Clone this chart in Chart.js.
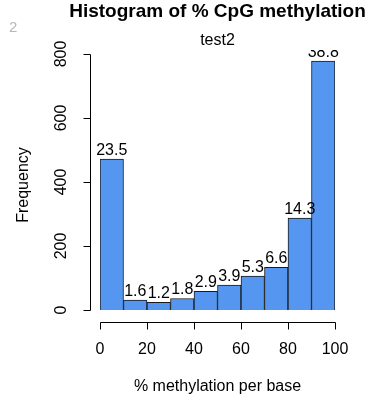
<!DOCTYPE html>
<html>
<head>
<meta charset="utf-8">
<script src="https://cdn.jsdelivr.net/npm/chart.js@4/dist/chart.umd.min.js"></script>
<style>
  html, body { margin: 0; padding: 0; background: #fff; }
  #wrap { width: 368px; height: 399px; position: relative; }
</style>
</head>
<body>
<div id="wrap"><canvas id="hist" width="368" height="399"></canvas></div>
<script>
// histogram bins (centres of 10-wide bins) and counts
const binCentres = [5, 15, 25, 35, 45, 55, 65, 75, 85, 95];
const counts = [472, 31, 24, 36, 58, 78, 106, 133, 287, 778];
const pctLabels = ['23.5', '1.6', '1.2', '1.8', '2.9', '3.9', '5.3', '6.6', '14.3', '38.8'];
const xTicks = [0, 20, 40, 60, 80, 100];
const yTicks = [0, 200, 400, 600, 800];

const FONT = '"Liberation Sans", Arial, sans-serif';

// R-style base graphics: detached axes, rotated y labels, titles
const rAxes = {
    id: 'rAxes',
    afterDatasetsDraw(chart) {
        const ctx = chart.ctx;
        const meta = chart.getDatasetMeta(0);

        // percentage labels above bars, clipped to plot region
        ctx.save();
        ctx.beginPath();
        ctx.rect(0, 50, chart.width, chart.height);
        ctx.clip();
        ctx.fillStyle = '#000';
        ctx.font = '16px ' + FONT;
        ctx.textAlign = 'center';
        ctx.textBaseline = 'alphabetic';
        meta.data.forEach((bar, i) => {
            ctx.fillText(pctLabels[i], bar.x, bar.y - 4);
        });
        ctx.restore();
    },
    afterDraw(chart) {
        const ctx = chart.ctx;
        const xs = chart.scales.x;
        const ys = chart.scales.y;
        ctx.save();
        ctx.strokeStyle = '#000';
        ctx.lineWidth = 1;

        // y axis
        const ax = 90.5;
        ctx.beginPath();
        ctx.moveTo(ax, Math.round(ys.getPixelForValue(0)) + 0.5);
        ctx.lineTo(ax, Math.round(ys.getPixelForValue(800)) + 0.5);
        yTicks.forEach(v => {
            const py = Math.round(ys.getPixelForValue(v)) + 0.5;
            ctx.moveTo(ax, py);
            ctx.lineTo(ax - 7, py);
        });
        ctx.stroke();

        // x axis
        const ay = 322.5;
        ctx.beginPath();
        ctx.moveTo(Math.round(xs.getPixelForValue(0)) + 0.5, ay);
        ctx.lineTo(Math.round(xs.getPixelForValue(100)) + 0.5, ay);
        xTicks.forEach(v => {
            const px = Math.round(xs.getPixelForValue(v)) + 0.5;
            ctx.moveTo(px, ay);
            ctx.lineTo(px, ay + 7);
        });
        ctx.stroke();

        ctx.fillStyle = '#000';
        ctx.font = '16px ' + FONT;
        ctx.textAlign = 'center';
        ctx.textBaseline = 'middle';
        xTicks.forEach(v => {
            ctx.fillText(String(v), xs.getPixelForValue(v), 350);
        });
        yTicks.forEach(v => {
            ctx.save();
            ctx.translate(62, ys.getPixelForValue(v));
            ctx.rotate(-Math.PI / 2);
            ctx.fillText(String(v), 0, 0);
            ctx.restore();
        });

        // axis titles
        const cx = (chart.chartArea.left + chart.chartArea.right) / 2;
        ctx.fillText('% methylation per base', cx, 387);
        ctx.save();
        ctx.translate(24, 185);
        ctx.rotate(-Math.PI / 2);
        ctx.fillText('Frequency', 0, 0);
        ctx.restore();

        // titles
        ctx.font = 'bold 19px ' + FONT;
        ctx.fillText('Histogram of % CpG methylation', cx, 12);
        ctx.font = '16px ' + FONT;
        ctx.fillText('test2', cx, 41);

        // stray page number
        ctx.fillStyle = '#b8b8b8';
        ctx.font = '15px ' + FONT;
        ctx.textAlign = 'left';
        ctx.fillText('2', 9, 28);
        ctx.restore();
    }
};

new Chart(document.getElementById('hist'), {
    type: 'bar',
    data: {
        datasets: [{
            data: binCentres.map((c, i) => ({ x: c, y: counts[i] })),
            backgroundColor: '#5496f0',
            borderColor: '#1a1a1a',
            borderWidth: 1,
            barPercentage: 1,
            categoryPercentage: 1
        }]
    },
    options: {
        responsive: false,
        animation: false,
        devicePixelRatio: 1,
        layout: { padding: { left: 100, right: 33, top: 54, bottom: 89 } },
        scales: {
            x: { type: 'linear', min: 0, max: 100, offset: false, display: false },
            y: { min: 0, max: 800, display: false }
        },
        plugins: {
            legend: { display: false },
            tooltip: { enabled: false },
            title: { display: false }
        }
    },
    plugins: [rAxes]
});
</script>
</body>
</html>
